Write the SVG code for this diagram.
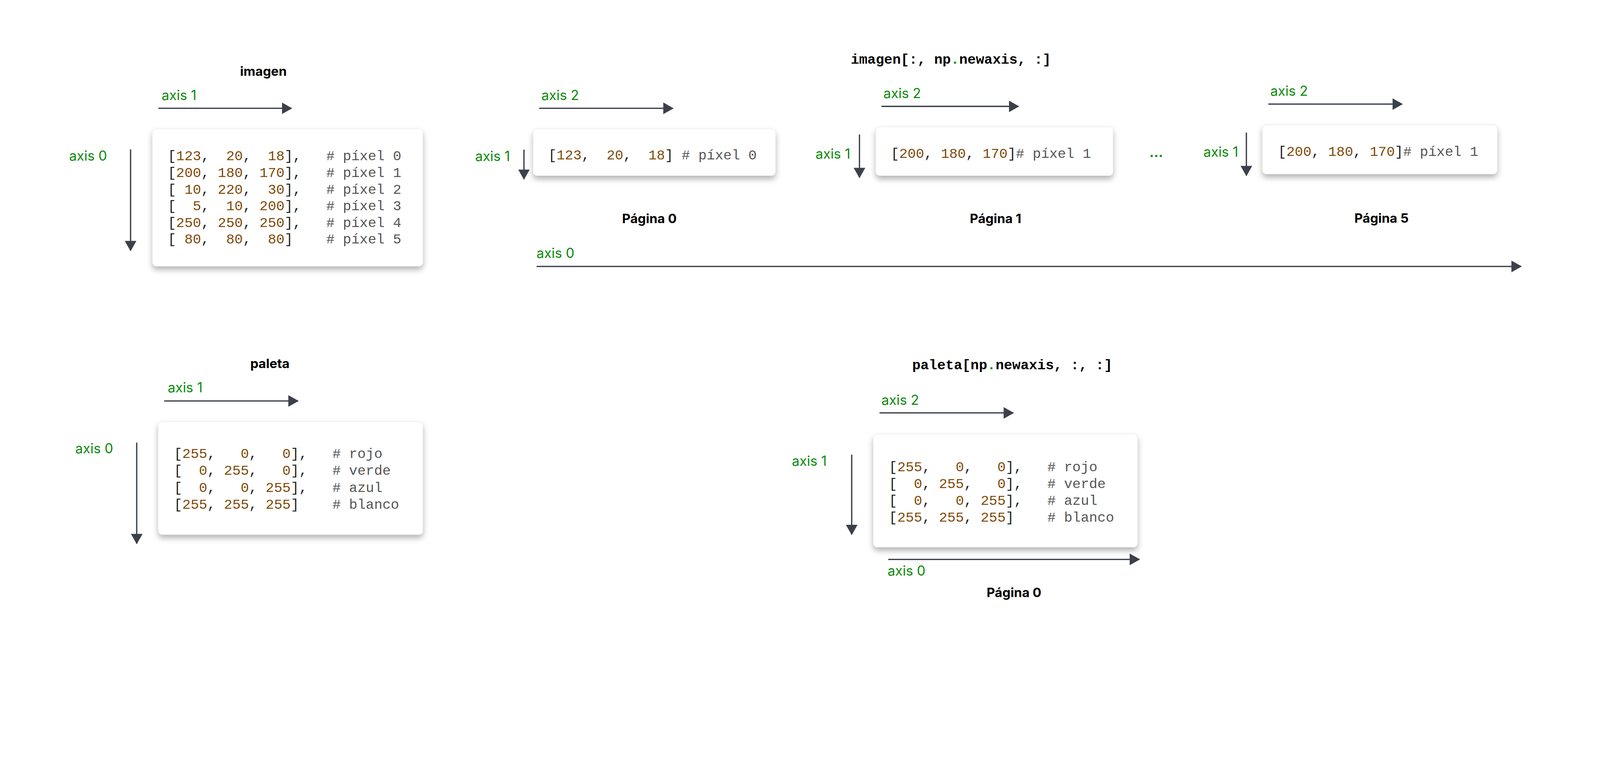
<svg xmlns="http://www.w3.org/2000/svg" width="4950" height="1991" viewBox="0 0 4950 1991" style="width:100%;height:100%" preserveAspectRatio="xMinYMin meet">
<style>
.ax{font-family:Inter,"Liberation Sans",sans-serif;font-size:42px;fill:#0a8a0a}
.ttl{font-family:Inter,"Liberation Sans",sans-serif;font-size:40px;font-weight:bold;fill:#000;text-anchor:middle}
.mt{font-family:"Liberation Mono",monospace;font-size:43px;font-weight:bold;fill:#000;white-space:pre}
.code{font-family:"Liberation Mono",monospace;font-size:43px;fill:#222;white-space:pre}
.n{fill:#7f4a08}.c{fill:#555}.g{fill:#0a8a0a}
.box{fill:#fff;stroke:#f0f0f0;stroke-width:1.5;filter:url(#sh)}
.ar{stroke:#3b404a;stroke-width:4;fill:none;marker-end:url(#ah)}
</style>
<defs>
<marker id="ah" markerUnits="userSpaceOnUse" markerWidth="32" markerHeight="36" refX="30" refY="18" orient="auto"><path d="M0,0 L32,18 L0,36 Z" fill="#3b404a"/></marker>
<filter id="sh" x="-10%" y="-20%" width="120%" height="150%"><feDropShadow dx="0" dy="10" stdDeviation="9" flood-color="#000" flood-opacity="0.3"/></filter>
</defs>
<rect width="4950" height="1991" fill="#fff"/>

<g id="imagen">
<text class="ttl" x="815" y="234">imagen</text>
<text class="ax" x="500" y="309">axis 1</text>
<text class="ax" x="214" y="497">axis 0</text>
<rect class="box" x="472" y="399" width="836" height="424" rx="12"/>
<text class="code" x="519" y="495">[<tspan class="n">123</tspan>,  <tspan class="n">20</tspan>,  <tspan class="n">18</tspan>],   <tspan class="c"># píxel 0</tspan></text>
<text class="code" x="519" y="547">[<tspan class="n">200</tspan>, <tspan class="n">180</tspan>, <tspan class="n">170</tspan>],   <tspan class="c"># píxel 1</tspan></text>
<text class="code" x="519" y="599">[ <tspan class="n">10</tspan>, <tspan class="n">220</tspan>,  <tspan class="n">30</tspan>],   <tspan class="c"># píxel 2</tspan></text>
<text class="code" x="519" y="650">[  <tspan class="n">5</tspan>,  <tspan class="n">10</tspan>, <tspan class="n">200</tspan>],   <tspan class="c"># píxel 3</tspan></text>
<text class="code" x="519" y="702">[<tspan class="n">250</tspan>, <tspan class="n">250</tspan>, <tspan class="n">250</tspan>],   <tspan class="c"># píxel 4</tspan></text>
<text class="code" x="519" y="753">[ <tspan class="n">80</tspan>,  <tspan class="n">80</tspan>,  <tspan class="n">80</tspan>]    <tspan class="c"># píxel 5</tspan></text>
</g>

<g id="imagen-newaxis-title">
<text class="mt" x="2632" y="197">imagen[:, np<tspan class="g">.</tspan>newaxis, :]</text>
</g>

<g id="pagina0">
<text class="ax" x="1675" y="309">axis 2</text>
<text class="ax" x="1470" y="498">axis 1</text>
<rect class="box" x="1650" y="399" width="749" height="144" rx="12"/>
<text class="code" x="1696" y="493">[<tspan class="n">123</tspan>,  <tspan class="n">20</tspan>,  <tspan class="n">18</tspan>] <tspan class="c"># píxel 0</tspan></text>
<text class="ttl" x="2009" y="690">Página 0</text>
</g>

<g id="pagina1">
<text class="ax" x="2733" y="303">axis 2</text>
<text class="ax" x="2523" y="491">axis 1</text>
<rect class="box" x="2710" y="393" width="733" height="150" rx="12"/>
<text class="code" x="2756" y="488">[<tspan class="n">200</tspan>, <tspan class="n">180</tspan>, <tspan class="n">170</tspan>]<tspan class="c"># píxel 1</tspan></text>
<text class="ttl" x="3080" y="690">Página 1</text>
</g>

<g id="dots"><text class="ax" x="3556" y="486" font-weight="bold">...</text></g>

<g id="pagina5">
<text class="ax" x="3930" y="296">axis 2</text>
<text class="ax" x="3723" y="485">axis 1</text>
<rect class="box" x="3906" y="387" width="726" height="151" rx="12"/>
<text class="code" x="3954" y="482">[<tspan class="n">200</tspan>, <tspan class="n">180</tspan>, <tspan class="n">170</tspan>]<tspan class="c"># píxel 1</tspan></text>
<text class="ttl" x="4274" y="689">Página 5</text>
</g>
<text class="ax" x="1660" y="798">axis 0</text>

<g id="paleta">
<text class="ttl" x="835" y="1139">paleta</text>
<text class="ax" x="519" y="1213">axis 1</text>
<text class="ax" x="233" y="1402">axis 0</text>
<rect class="box" x="490" y="1304" width="818" height="349" rx="12"/>
<text class="code" x="538" y="1416">[<tspan class="n">255</tspan>,   <tspan class="n">0</tspan>,   <tspan class="n">0</tspan>],   <tspan class="c"># rojo</tspan></text>
<text class="code" x="538" y="1468">[  <tspan class="n">0</tspan>, <tspan class="n">255</tspan>,   <tspan class="n">0</tspan>],   <tspan class="c"># verde</tspan></text>
<text class="code" x="538" y="1521">[  <tspan class="n">0</tspan>,   <tspan class="n">0</tspan>, <tspan class="n">255</tspan>],   <tspan class="c"># azul</tspan></text>
<text class="code" x="538" y="1574">[<tspan class="n">255</tspan>, <tspan class="n">255</tspan>, <tspan class="n">255</tspan>]    <tspan class="c"># blanco</tspan></text>
</g>

<g id="paleta-newaxis">
<text class="mt" x="2822" y="1142">paleta[np<tspan class="g">.</tspan>newaxis, :, :]</text>
<text class="ax" x="2727" y="1252">axis 2</text>
<text class="ax" x="2450" y="1440">axis 1</text>
<rect class="box" x="2702" y="1343" width="817" height="349" rx="12"/>
<text class="code" x="2750" y="1457">[<tspan class="n">255</tspan>,   <tspan class="n">0</tspan>,   <tspan class="n">0</tspan>],   <tspan class="c"># rojo</tspan></text>
<text class="code" x="2750" y="1509">[  <tspan class="n">0</tspan>, <tspan class="n">255</tspan>,   <tspan class="n">0</tspan>],   <tspan class="c"># verde</tspan></text>
<text class="code" x="2750" y="1561">[  <tspan class="n">0</tspan>,   <tspan class="n">0</tspan>, <tspan class="n">255</tspan>],   <tspan class="c"># azul</tspan></text>
<text class="code" x="2750" y="1613">[<tspan class="n">255</tspan>, <tspan class="n">255</tspan>, <tspan class="n">255</tspan>]    <tspan class="c"># blanco</tspan></text>
<text class="ax" x="2746" y="1780">axis 0</text>
<text class="ttl" x="3137" y="1847">Página 0</text>
</g>

<g id="connectors">
<line class="ar" x1="490" y1="335" x2="902" y2="335"/>
<line class="ar" x1="404" y1="462" x2="404" y2="775"/>
<line class="ar" x1="1668" y1="335" x2="2082" y2="335"/>
<line class="ar" x1="1621" y1="463" x2="1621" y2="554"/>
<line class="ar" x1="2727" y1="329" x2="3151" y2="329"/>
<line class="ar" x1="2659" y1="416" x2="2659" y2="549"/>
<line class="ar" x1="3924" y1="322" x2="4338" y2="322"/>
<line class="ar" x1="3856" y1="410" x2="3856" y2="543"/>
<line class="ar" x1="1660" y1="824" x2="4706" y2="824"/>
<line class="ar" x1="508" y1="1240" x2="922" y2="1240"/>
<line class="ar" x1="423" y1="1369" x2="423" y2="1681"/>
<line class="ar" x1="2721" y1="1277" x2="3135" y2="1277"/>
<line class="ar" x1="2635" y1="1406" x2="2635" y2="1653"/>
<line class="ar" x1="2748" y1="1730" x2="3525" y2="1730"/>
</g>
</svg>
